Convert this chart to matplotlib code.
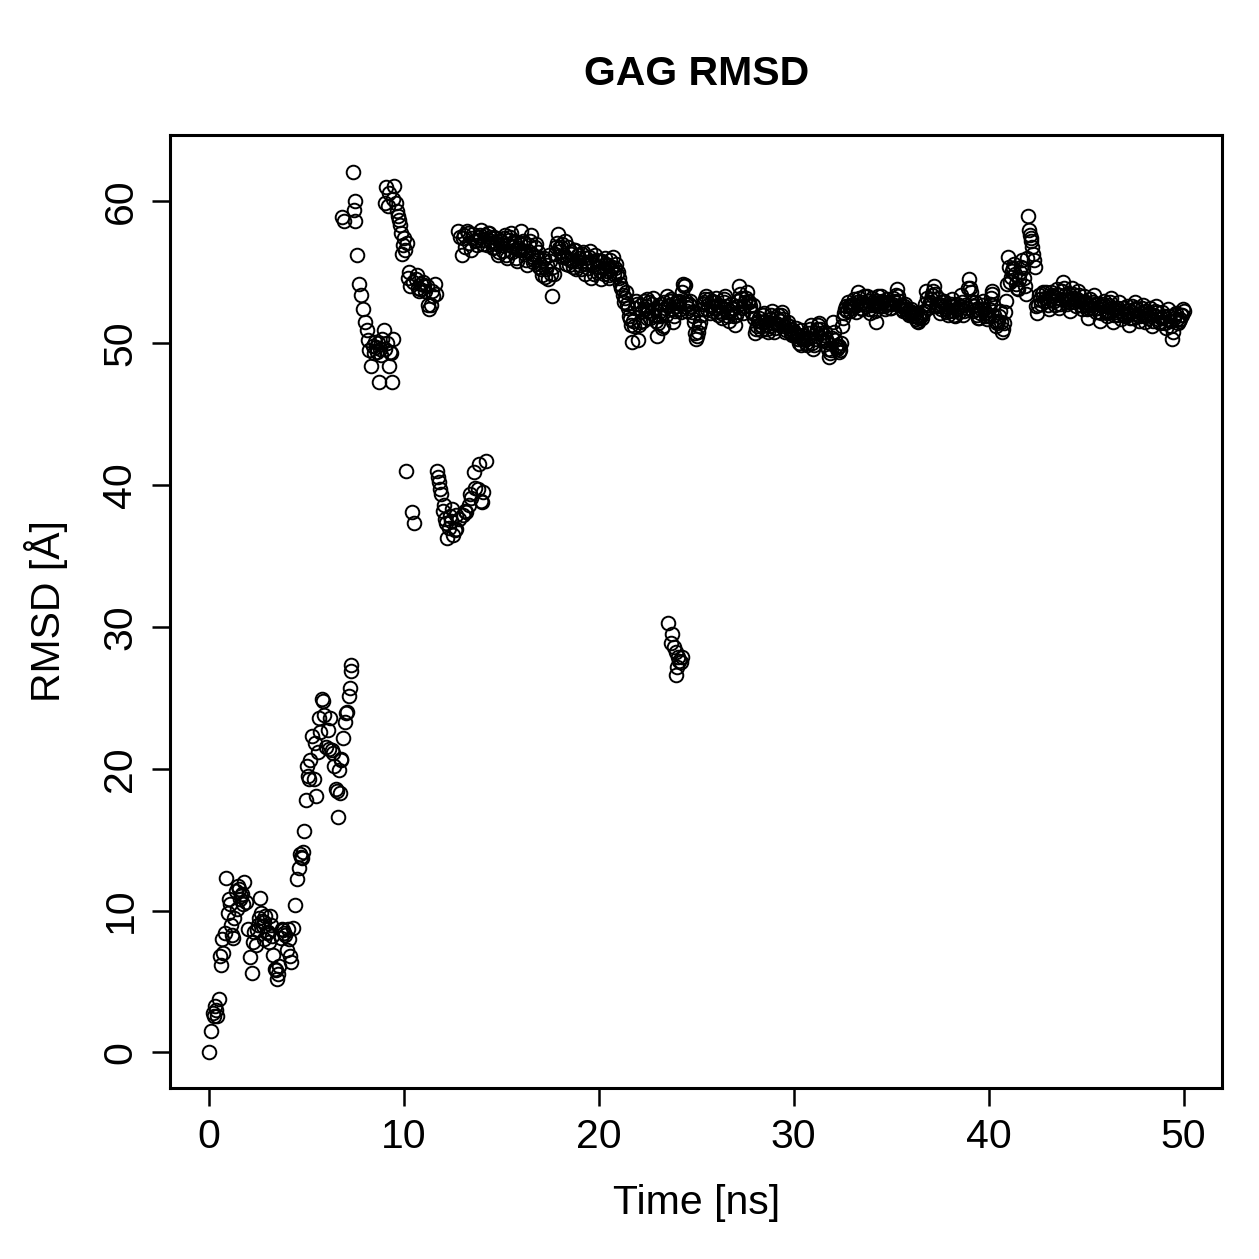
import numpy as np
import matplotlib
matplotlib.use('Agg')
import matplotlib.pyplot as plt

plt.rcParams['font.family'] = ['Liberation Sans', 'DejaVu Sans']

# RMSD sampled every 0.1 ns (one row per ns)
rmsd = [
    0.0, 1.5, 2.8, 3.3, 2.6, 3.8, 6.2, 7.0, 8.4, 12.3,
    9.8, 10.5, 8.3, 9.5, 11.4, 11.7, 10.8, 11.2, 12.0, 10.6,
    8.7, 6.7, 5.6, 8.5, 7.6, 9.0, 10.9, 9.3, 8.0, 9.6,
    8.4, 7.8, 9.0, 6.9, 5.9, 5.2, 6.1, 8.1, 8.6, 8.3,
    7.2, 8.0, 6.4, 8.8, 10.4, 12.2, 13.0, 13.8, 14.1, 15.6,
    17.8, 19.5, 20.6, 22.3, 19.3, 18.1, 21.2, 22.6, 24.9, 23.8,
    21.5, 22.7, 23.6, 21.3, 20.2, 18.6, 16.6, 18.3, 20.7, 22.2,
    23.3, 24.0, 25.1, 27.3, 62.1, 60.0, 56.2, 54.2, 53.4, 52.4,
    51.5, 50.9, 49.5, 48.4, 49.8, 50.1, 49.4, 47.3, 49.6, 50.3,
    50.9, 61.0, 59.7, 49.4, 47.3, 61.1, 59.9, 59.0, 58.3, 56.3,
    57.4, 41.0, 54.6, 54.0, 38.1, 37.3, 54.5, 53.9, 53.7, 54.2,
    54.3, 53.7, 54.0, 52.4, 52.7, 53.3, 54.2, 41.0, 40.2, 39.4,
    38.2, 37.6, 36.3, 37.0, 37.5, 36.5, 36.8, 37.9, 57.9, 57.5,
    56.2, 57.6, 38.1, 57.8, 39.4, 57.4, 40.9, 57.2, 39.7, 57.6,
    38.8, 57.3, 41.7, 57.8, 57.5, 57.1, 56.8, 57.4, 57.0, 56.4,
    57.2, 56.5, 57.6, 56.0, 57.3, 57.8, 56.8, 57.1, 55.8, 56.6,
    57.9, 57.2, 56.3, 55.5, 56.9, 57.6, 56.1, 55.9, 57.0, 56.4,
    55.6, 54.8, 56.0, 55.2, 54.5, 55.8, 53.3, 54.9, 56.8, 57.7,
    56.5, 57.0, 56.2, 55.6, 56.8, 55.9, 56.3, 55.4, 56.6, 55.8,
    56.0, 55.2, 56.4, 54.9, 55.7, 56.1, 54.6, 55.5, 56.2, 55.0,
    55.8, 54.5, 55.3, 56.0, 55.1, 54.8, 55.9, 55.4, 54.9, 55.6,
    55.0, 54.2, 53.8, 52.9, 53.6, 52.5, 51.7, 50.1, 51.2, 53.0,
    50.2, 51.5, 52.3, 53.0, 52.6, 51.8, 52.9, 52.1, 53.2, 52.4,
    50.5, 51.9, 52.8, 51.2, 52.5, 53.3, 52.7, 53.1, 51.5, 52.3,
    52.6, 53.0, 52.2, 54.2, 54.1, 52.8, 52.5, 53.0, 52.2, 51.5,
    50.3, 50.8, 51.5, 52.4, 52.9, 53.3, 52.7, 52.1, 53.0, 52.5,
    53.2, 52.0, 52.6, 51.8, 52.9, 53.3, 52.2, 51.6, 52.8, 52.4,
    51.3, 52.6, 54.0, 53.2, 52.1, 52.9, 53.6, 52.9, 52.3, 52.7,
    50.7, 51.2, 51.8, 50.9, 51.5, 52.1, 51.3, 50.8, 51.7, 52.3,
    50.8, 51.4, 52.0, 51.6, 52.2, 51.2, 50.9, 51.5, 51.0, 50.6,
    50.8, 51.1, 50.3, 50.5, 49.9, 50.6, 50.2, 49.9, 50.7, 51.3,
    49.6, 50.3, 51.0, 51.4, 50.7, 50.2, 50.8, 50.1, 49.0, 49.5,
    51.5, 50.2, 49.6, 49.8, 49.5, 51.2, 52.1, 52.6, 52.9, 52.3,
    52.5, 53.1, 52.2, 53.6, 52.8, 52.4, 53.3, 52.6, 53.0, 52.1,
    53.2, 52.7, 51.5, 53.0, 52.6, 53.3, 52.9, 52.4, 53.1, 52.8,
    52.5, 53.2, 52.9, 53.8, 53.0, 52.6, 52.3, 52.8, 52.2, 52.0,
    52.4, 51.9, 52.1, 51.7, 51.5, 52.0, 51.8, 52.3, 53.7, 52.5,
    52.9, 53.4, 54.0, 52.6, 53.2, 52.1, 52.7, 53.0, 52.4, 52.0,
    52.6, 53.1, 52.3, 51.9, 52.8, 52.2, 53.4, 52.0, 52.7, 52.5,
    54.5, 53.6, 52.3, 52.9, 52.0, 51.8, 52.4, 53.0, 52.1, 51.7,
    52.4, 53.2, 53.7, 52.0, 51.2, 51.6, 52.3, 50.8, 51.4, 53.0,
    56.1, 54.3, 55.1, 55.6, 54.2, 53.8, 55.0, 55.9, 54.6, 53.5,
    59.0, 57.6, 57.2, 56.3, 55.4, 52.1, 53.4, 52.8, 53.6, 53.2,
    53.0, 52.4, 53.6, 53.3, 52.7, 53.8, 52.5, 53.1, 54.3, 53.4,
    52.8, 53.5, 52.3, 53.9, 53.2, 52.6, 53.7, 53.0, 52.4, 53.3,
    52.9, 51.8, 53.1, 52.5, 53.4, 52.2, 52.8, 51.6, 52.6, 53.0,
    52.3, 51.9, 52.7, 53.2, 51.5, 52.4, 52.0, 52.9, 51.7, 52.5,
    51.9, 52.6, 51.3, 52.2, 51.8, 52.9, 52.4, 51.6, 52.1, 52.7,
    51.5, 52.3, 51.8, 52.5, 51.2, 52.0, 52.6, 51.7, 51.4, 52.2,
    51.9, 51.1, 52.4, 51.6, 50.3, 51.8, 52.1, 51.4, 51.7, 52.0,
    52.3,
]
time = np.round(np.arange(len(rmsd)) * 0.1, 2)

# frames half way in between, 13.05 ns to 49.95 ns (one row per ns)
rmsd_half = [
    57.4, 56.8, 57.9, 57.1, 56.6, 57.7, 57.3, 56.9, 57.5, 58.0,
    57.0, 57.6, 56.9, 57.8, 57.2, 56.7, 57.5, 57.1, 56.2, 57.3,
    56.9, 57.4, 56.2, 57.0, 57.5, 56.4, 57.2, 56.0, 56.7, 57.1,
    56.6, 57.1, 55.9, 56.5, 57.2, 56.3, 55.7, 56.8, 56.1, 55.4,
    55.2, 55.9, 54.7, 55.5, 56.2, 54.9, 55.4, 56.3, 57.1, 56.7,
    56.8, 56.1, 57.2, 56.0, 55.5, 56.4, 55.8, 56.6, 55.2, 56.2,
    55.5, 56.3, 55.6, 56.0, 55.3, 56.5, 55.7, 54.9, 55.9, 55.4,
    55.1, 55.8, 54.9, 55.6, 55.5, 54.6, 55.2, 56.1, 55.3, 54.9,
    54.6, 53.9, 53.4, 53.2, 52.8, 51.9, 51.3, 51.6, 52.5, 52.8,
    51.3, 52.7, 51.6, 52.4, 53.1, 52.3, 51.8, 52.8, 52.0, 51.6,
    51.4, 52.3, 51.1, 52.9, 52.0, 52.6, 53.0, 52.4, 51.9, 52.9,
    52.9, 52.4, 53.6, 54.0, 53.0, 52.3, 52.8, 52.6, 51.9, 50.7,
    50.5, 51.2, 52.0, 52.8, 53.1, 52.4, 53.1, 52.6, 52.3, 52.9,
    52.7, 52.3, 52.1, 52.5, 53.1, 52.6, 51.9, 52.3, 52.5, 51.9,
    52.0, 53.0, 53.5, 52.5, 52.6, 53.2, 53.0, 52.6, 52.1, 51.8,
    51.0, 51.6, 51.3, 51.2, 52.0, 51.6, 51.0, 51.2, 52.0, 51.4,
    51.1, 51.8, 51.3, 52.0, 51.7, 50.8, 51.3, 51.2, 50.7, 50.9,
    50.6, 50.6, 50.0, 50.9, 50.3, 50.4, 50.0, 50.4, 51.0, 50.0,
    49.9, 50.7, 51.3, 51.0, 50.4, 50.6, 50.3, 49.6, 49.3, 50.4,
    50.8, 49.8, 49.7, 49.4, 50.0, 51.8, 52.4, 52.3, 52.6, 52.7,
    52.8, 52.6, 52.9, 53.2, 52.5, 52.9, 52.8, 53.3, 52.4, 52.7,
    52.9, 52.3, 52.8, 53.3, 52.9, 53.0, 52.6, 52.8, 52.9, 52.5,
    52.8, 53.0, 53.4, 53.3, 52.7, 52.4, 52.6, 52.4, 52.1, 52.3,
    52.1, 52.0, 51.9, 51.6, 51.8, 51.9, 52.1, 52.8, 53.2, 52.7,
    53.1, 53.7, 53.5, 52.8, 52.6, 52.4, 52.9, 52.6, 52.2, 52.3,
    52.8, 52.6, 52.0, 52.4, 52.5, 52.6, 52.9, 52.3, 52.5, 53.9,
    53.9, 52.9, 52.6, 52.4, 51.8, 52.1, 52.7, 52.4, 51.9, 52.0,
    52.8, 53.5, 52.7, 51.6, 51.4, 51.9, 51.5, 51.0, 52.2, 54.2,
    55.4, 54.7, 55.3, 54.9, 53.9, 54.5, 55.4, 55.3, 54.0, 56.0,
    58.0, 57.4, 56.8, 55.9, 52.6, 52.7, 53.1, 53.5, 53.0, 53.6,
    52.7, 53.1, 53.4, 53.0, 53.2, 53.4, 52.8, 53.7, 53.9, 53.0,
    53.1, 52.9, 53.1, 53.5, 52.9, 53.1, 53.4, 52.7, 52.9, 52.8,
    52.4, 52.5, 52.7, 52.9, 52.8, 52.5, 52.2, 52.1, 52.8, 52.6,
    52.1, 52.3, 52.9, 52.5, 52.0, 52.2, 52.5, 52.3, 52.1, 52.0,
    52.3, 52.0, 51.8, 52.6, 52.4, 52.5, 52.0, 51.9, 52.5, 52.2,
    51.9, 52.0, 52.1, 51.9, 51.6, 52.3, 52.2, 51.5, 51.8, 51.9,
    51.4, 51.7, 51.9, 51.2, 50.8, 52.0, 51.7, 51.6, 52.0, 52.4,
]
time_half = np.round(13.05 + np.arange(len(rmsd_half)) * 0.1, 2)

# frames in between (early rise and the jumps between levels)
time_extra = [0.25, 0.35, 0.55, 0.65, 1.05, 1.15, 1.25, 1.45, 1.55, 1.65, 1.75,
              2.25, 2.45, 2.55, 2.65, 2.75, 2.85, 3.05, 3.15, 3.25, 3.45, 3.55,
              3.75, 3.85, 4.05, 4.15,
              4.65, 4.75, 5.05, 5.15, 5.45, 5.65, 5.85, 6.15, 6.35, 6.55, 6.65,
              6.75, 7.05, 7.25, 7.3,
              6.85, 6.95, 7.45, 7.5,
              8.15, 8.45, 8.55, 8.65, 8.85, 9.05, 9.15, 9.25, 9.35, 9.45,
              9.05, 9.25, 9.45, 9.65, 9.75, 9.85, 9.95, 10.05, 10.15,
              10.25, 10.45, 10.65, 10.85, 11.05, 11.25, 11.45, 11.65,
              11.75, 11.85, 12.05, 12.15, 12.35, 12.45, 12.65, 12.85, 13.05,
              13.15, 13.35, 13.45, 13.65, 13.85, 13.95, 14.05,
              23.55, 23.75, 23.7, 23.85, 23.95, 24.05, 24.1, 24.0, 23.95,
              24.2, 24.25]
rmsd_extra = [2.6, 3.0, 6.8, 8.0, 10.8, 9.0, 8.1, 10.1, 11.5, 11.0, 10.5,
              7.8, 8.6, 9.5, 9.8, 8.9, 9.2, 8.5, 9.6, 8.2, 5.8, 5.5,
              8.7, 8.4, 8.7, 6.8,
              14.0, 13.7, 20.2, 19.3, 21.8, 23.6, 24.8, 21.4, 21.1, 18.4, 19.9,
              20.6, 23.9, 25.7, 26.9,
              58.9, 58.6, 59.4, 58.6,
              50.2, 49.3, 49.7, 50.0, 49.2, 49.6, 50.0, 48.4, 49.3, 50.3,
              59.9, 60.6, 60.2, 59.3, 58.7, 57.8, 56.9, 56.6, 57.1,
              55.0, 54.3, 54.8, 53.8, 54.1, 52.7, 53.7, 53.5,
              40.6, 39.7, 38.6, 37.3, 37.8, 38.3, 36.9, 37.6, 37.9,
              38.2, 38.6, 39.1, 39.8, 41.5, 38.9, 39.5,
              30.3, 29.5, 28.9, 28.6, 28.2, 27.9, 27.6, 27.2, 26.6,
              27.5, 27.9]

fig = plt.figure(figsize=(12.59, 12.59), dpi=100)
ax = fig.add_axes([0.135, 0.136, 0.836, 0.757])

mk = dict(marker='o', linestyle='none', markersize=9.8, markerfacecolor='none',
          markeredgecolor='black', markeredgewidth=1.4)
ax.plot(time, rmsd, **mk)
ax.plot(time_half, rmsd_half, **mk)
ax.plot(time_extra, rmsd_extra, **mk)

ax.set_xlim(-2, 52)
ax.set_ylim(-2.49, 64.7)
ax.set_xticks([0, 10, 20, 30, 40, 50])
ax.set_yticks([0, 10, 20, 30, 40, 50, 60])
ax.tick_params(direction='out', length=13, width=1.8, labelsize=29.5, pad=9)
for lbl in ax.get_yticklabels():
    lbl.set_rotation(90)
    lbl.set_va('center')
for s in ax.spines.values():
    s.set_linewidth(2.2)

ax.set_xlabel('Time [ns]', fontsize=29.5, labelpad=20)
ax.set_ylabel('RMSD [Å]', fontsize=29.5, labelpad=24)
ax.set_title('GAG RMSD', fontsize=29.5, fontweight='bold', pad=36)

fig.savefig('out.png', dpi=100)
